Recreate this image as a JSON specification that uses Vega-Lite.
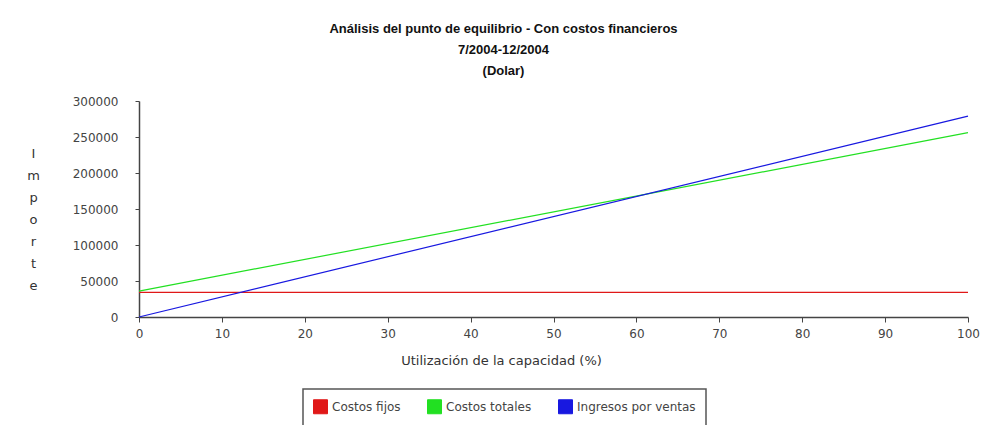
{
  "$schema": "https://vega.github.io/schema/vega-lite/v6.json",
  "width": 829,
  "height": 216,
  "autosize": {"type": "none"},
  "padding": {"left": 139, "top": 101, "right": 17, "bottom": 108},
  "background": "white",
  "title": {
    "text": ["Análisis del punto de equilibrio - Con costos financieros", "7/2004-12/2004", "(Dolar)"],
    "font": "Liberation Sans",
    "fontSize": 13,
    "fontWeight": "bold",
    "color": "#111111",
    "lineHeight": 21,
    "anchor": "middle",
    "dx": -50,
    "offset": 17
  },
  "data": {
    "values": [
      {"serie": "Costos fijos", "x": 0, "y": 34200},
      {"serie": "Costos fijos", "x": 100, "y": 34200},
      {"serie": "Costos totales", "x": 0, "y": 36000},
      {"serie": "Costos totales", "x": 100, "y": 256000},
      {"serie": "Ingresos por ventas", "x": 0, "y": 0},
      {"serie": "Ingresos por ventas", "x": 100, "y": 279000}
    ]
  },
  "mark": {"type": "line", "strokeWidth": 1.2},
  "encoding": {
    "x": {
      "field": "x",
      "type": "quantitative",
      "scale": {"domain": [0, 100], "nice": false},
      "axis": {
        "values": [0, 10, 20, 30, 40, 50, 60, 70, 80, 90, 100],
        "grid": false,
        "format": "d",
        "title": "Utilización de la capacidad (%)",
        "titleFont": "DejaVu Sans",
        "titleFontSize": 13,
        "titleFontWeight": "normal",
        "titleColor": "#333333",
        "titleX": 362,
        "titleY": 43,
        "titleAlign": "center",
        "titleBaseline": "middle",
        "labelFont": "DejaVu Sans",
        "labelFontSize": 12,
        "labelColor": "#444444",
        "labelPadding": 6,
        "tickSize": 5,
        "tickColor": "#444444",
        "domainColor": "#444444",
        "domainWidth": 1.5,
        "labelFlush": false
      }
    },
    "y": {
      "field": "y",
      "type": "quantitative",
      "scale": {"domain": [0, 300000], "nice": false},
      "axis": {
        "values": [0, 50000, 100000, 150000, 200000, 250000, 300000],
        "grid": false,
        "format": "d",
        "title": ["I", "m", "p", "o", "r", "t", "e"],
        "titleAngle": 0,
        "titleAlign": "center",
        "titleBaseline": "top",
        "titleX": -106,
        "titleY": 46,
        "titleLineHeight": 22,
        "titleFont": "DejaVu Sans",
        "titleFontSize": 13,
        "titleFontWeight": "normal",
        "titleColor": "#333333",
        "labelFont": "DejaVu Sans",
        "labelFontSize": 12,
        "labelColor": "#444444",
        "labelPadding": 17,
        "tickSize": 4,
        "tickColor": "#444444",
        "domainColor": "#444444",
        "domainWidth": 1.5,
        "labelFlush": false
      }
    },
    "color": {
      "field": "serie",
      "type": "nominal",
      "scale": {
        "domain": ["Costos fijos", "Costos totales", "Ingresos por ventas"],
        "range": ["#e01818", "#22e022", "#1818e0"]
      },
      "legend": {
        "orient": "none",
        "legendX": 164,
        "legendY": 288,
        "direction": "horizontal",
        "title": null,
        "symbolType": "square",
        "symbolSize": 196,
        "padding": 10,
        "columnPadding": 24,
        "labelFont": "DejaVu Sans",
        "labelFontSize": 12,
        "labelColor": "#444444",
        "labelOffset": 4,
        "strokeColor": "#555555",
        "fillColor": "white",
        "encode": {
          "symbols": {
            "update": {
              "fill": {"scale": "color", "field": "value"},
              "fillOpacity": {"value": 1},
              "stroke": {"value": "#333333"},
              "strokeWidth": {"value": 1}
            }
          },
          "legend": {
            "update": {"strokeWidth": {"value": 1.5}}
          }
        }
      }
    }
  },
  "config": {"view": {"stroke": null}}
}
